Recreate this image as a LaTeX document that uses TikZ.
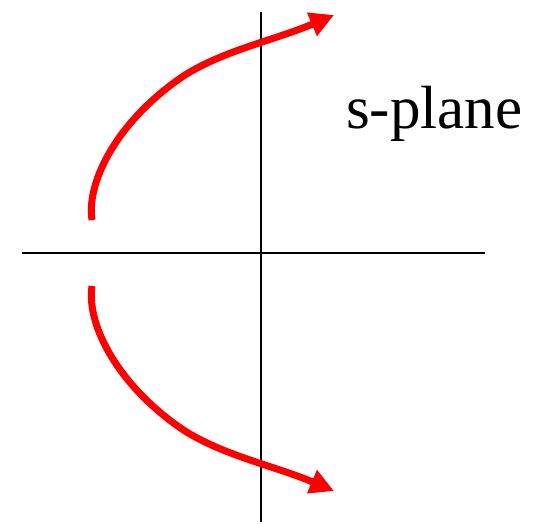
\documentclass[tikz,border=0pt]{standalone}
\usepackage{fontspec}
\setmainfont{Liberation Serif}
\usetikzlibrary{arrows.meta}
\tikzset{
  axis/.style  = {line width=1.6pt, black},
  locus/.style = {-{Triangle[length=24pt,width=24pt]},
                  red, line width=7pt, line cap=butt},
  lbl/.style   = {font=\fontsize{61}{64}\selectfont, inner sep=0pt, anchor=base west}
}
\begin{document}
\begin{tikzpicture}[x=1pt, y=-1pt]
  \useasboundingbox (0,0) rectangle (544,523);
  %% Axes
  \coordinate (XL) at ( 22, 253);
  \coordinate (XR) at (485, 253);
  \coordinate (YT) at (261,  12);
  \coordinate (YB) at (261, 522);
  \draw[axis] (XL) -- (XR);
  \draw[axis] (YT) -- (YB);

  %% Root locus branches
  \coordinate (U0) at ( 92, 220);
  \coordinate (U1) at (185,  75);
  \coordinate (U2) at (334,  15);
  \coordinate (L0) at ( 92, 286);
  \coordinate (L1) at (185, 431);
  \coordinate (L2) at (334, 491);

  \draw[locus] (U0) .. controls (86,180) and (120,118) .. (U1)
                    .. controls (225,50) and (275,40) .. (U2);
  \draw[locus] (L0) .. controls (86,326) and (120,388) .. (L1)
                    .. controls (225,456) and (275,466) .. (L2);

  %% Label
  \node[lbl] (plane) at (346,128) {s-plane};
\end{tikzpicture}
\end{document}
